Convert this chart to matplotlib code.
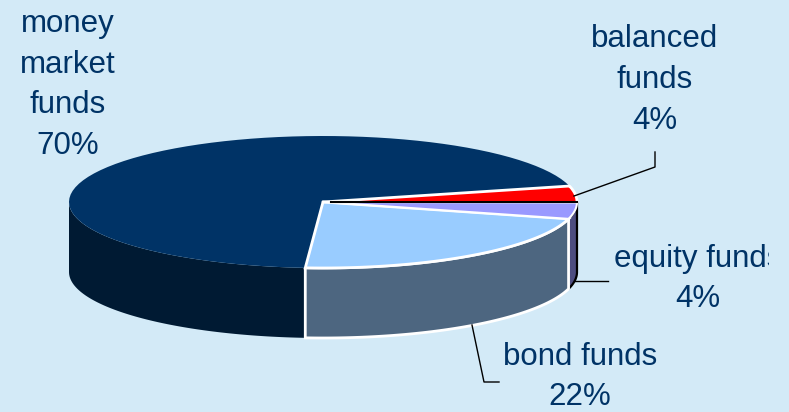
import numpy as np
import matplotlib
matplotlib.use("Agg")
import matplotlib.pyplot as plt
from matplotlib.patches import Polygon, Rectangle

# fund shares in percent, clockwise from the red slice
categories = ["balanced\nfunds", "equity funds", "bond funds", "money\nmarket\nfunds"]
shares = [4, 4, 22, 70]
top_colors = ["#ff0000", "#9999ff", "#99ccff", "#003366"]
side_colors = ["#800000", "#4d4d80", "#4d6680", "#001a33"]

BG = "#d3eaf7"
TEXT = "#003366"
CX, CY = 323, 202
RX, RY = 254, 66
DEPTH = 70
START = 14.0

plt.rcParams["font.family"] = ["Liberation Sans", "DejaVu Sans"]

fig = plt.figure(figsize=(7.89, 4.12), dpi=100, facecolor=BG)
ax = fig.add_axes([0, 0, 1, 1])
ax.set_xlim(0, 789)
ax.set_ylim(412, 0)
ax.axis("off")


def rim(a0, a1, drop=0):
    # points along the ellipse between two angles (degrees, counter-clockwise)
    t = np.radians(np.linspace(a0, a1, 80))
    return np.column_stack([CX + RX * np.cos(t), CY - RY * np.sin(t) + drop])


# slice limits from the shares
ends = START - np.cumsum(shares) * 3.6
starts = np.r_[START, ends[:-1]]
bal, eq, bond, money = 0, 1, 2, 3

# outer walls, only the front half of the disc shows
a0, a1 = starts[money], -180
wall = np.vstack([rim(a0, a1), rim(a0, a1, DEPTH)[::-1]])
ax.add_patch(Polygon(wall, fc=side_colors[money], ec="none", zorder=1))

wall = np.vstack([rim(starts[eq], ends[eq]), rim(starts[eq], ends[eq], DEPTH)[::-1]])
ax.add_patch(Polygon(wall, fc=side_colors[eq], ec="black", lw=1.6, zorder=2))

wall = np.vstack([rim(starts[bond], ends[bond]), rim(starts[bond], ends[bond], DEPTH)[::-1]])
ax.add_patch(Polygon(wall, fc=side_colors[bond], ec="white", lw=2, zorder=3))

# top faces
apex = np.array([[CX, CY]])
ax.add_patch(Polygon(np.vstack([apex, rim(starts[money], ends[money])]),
                     fc=top_colors[money], ec="none", zorder=4))
ax.add_patch(Polygon(np.vstack([apex, rim(starts[bond], ends[bond])]),
                     fc=top_colors[bond], ec="white", lw=2, zorder=5))
ax.add_patch(Polygon(np.vstack([apex, rim(starts[eq], ends[eq])]),
                     fc=top_colors[eq], ec="white", lw=1.5, zorder=5))
red = np.vstack([apex, rim(starts[bal], ends[bal])])
ax.add_patch(Polygon(red, fc=top_colors[bal], ec="none", zorder=6))
ax.plot(red[:, 0], red[:, 1], color="white", lw=2, zorder=7, solid_capstyle="round")
ax.plot([CX + 8, CX + RX], [CY, CY], color="black", lw=1.5, zorder=8)

# leader lines
leader = dict(color="black", lw=1, zorder=9)
ax.plot([655, 655, 574], [152, 167, 196], **leader)
ax.plot([575, 608], [281, 281], **leader)
ax.plot([472, 484, 499], [325, 382, 382], **leader)


# labels
def label(x, y, name, share):
    return ax.text(x, y, f"{name}\n{share}%", ha="center", va="center", color=TEXT,
                   fontsize=22.5, linespacing=1.46, zorder=10)


label(68, 85, categories[3], shares[3])
label(655, 80, categories[0], shares[0])
t = label(698, 279, categories[1], shares[1])
t.set_clip_path(Rectangle((600, 230), 169, 90, transform=ax.transData))
t.set_clip_on(True)
label(580, 377, categories[2], shares[2])

fig.savefig("out.png", dpi=100, facecolor=BG)
